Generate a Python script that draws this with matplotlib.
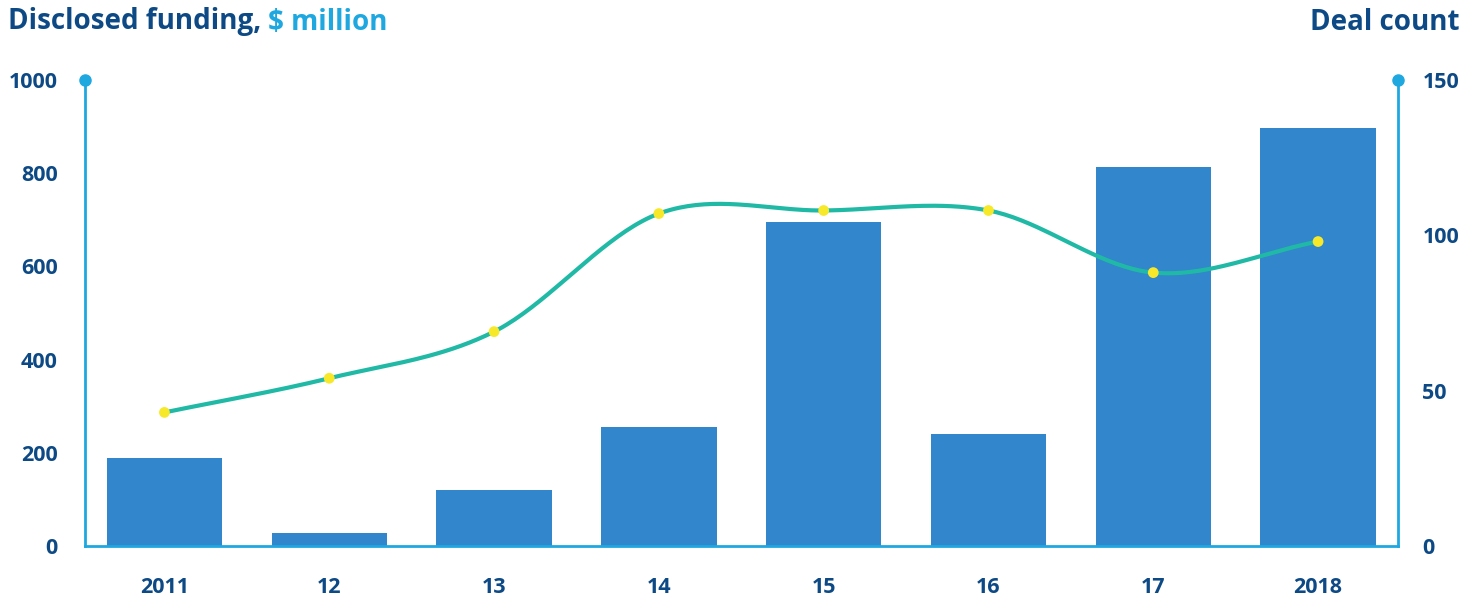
import numpy as np
import matplotlib
matplotlib.use("Agg")
import matplotlib.pyplot as plt

years = ["2011", "12", "13", "14", "15", "16", "17", "2018"]
funding = [188, 27, 120, 255, 695, 240, 813, 897]
deals = [43, 54, 69, 107, 108, 108, 88, 98]

DARK = "#0d4a85"
LIGHT = "#1fa8e0"
BAR = "#3186cc"
LINE = "#20b9a5"
DOT = "#f7e92a"
FONT = ["Open Sans", "DejaVu Sans"]

plt.rcParams["font.family"] = FONT

fig = plt.figure(figsize=(14.77, 5.97), dpi=100)
ax = fig.add_axes([85/1477, 1-546/597, (1398-85)/1477, (546-80)/597])
ax2 = ax.twinx()

x = np.arange(len(years))
ax.bar(x, funding, width=0.70, color=BAR, zorder=2)
ax.set_xlim(-0.482, len(years)-1+0.485)
ax.set_ylim(0, 1000)
ax.set_yticks([0, 200, 400, 600, 800, 1000])
ax.set_xticks(x)
ax.set_xticklabels(years)
ax2.set_ylim(0, 150)
ax2.set_yticks([0, 50, 100, 150])

# Catmull-Rom smoothing through the deal points
def catmull(xs, ys, n=40):
    px = np.concatenate([[2*xs[0]-xs[1]], xs, [2*xs[-1]-xs[-2]]])
    py = np.concatenate([[2*ys[0]-ys[1]], ys, [2*ys[-1]-ys[-2]]])
    ox, oy = [], []
    for i in range(1, len(px)-2):
        t = np.linspace(0, 1, n, endpoint=False)
        for P, out in ((px, ox), (py, oy)):
            p0, p1, p2, p3 = P[i-1], P[i], P[i+1], P[i+2]
            out.extend(0.5*((2*p1) + (-p0+p2)*t + (2*p0-5*p1+4*p2-p3)*t**2 + (-p0+3*p1-3*p2+p3)*t**3))
    ox.append(xs[-1]); oy.append(ys[-1])
    return np.array(ox), np.array(oy)

sx, sy = catmull(x.astype(float), np.array(deals, float))
ax2.plot(sx, sy, color=LINE, lw=3, zorder=3, solid_capstyle="round")
ax2.scatter(x, deals, s=60, color=DOT, zorder=4, edgecolors="none")

for a in (ax, ax2):
    a.spines["top"].set_visible(False)
    a.tick_params(length=0, labelsize=15.5, labelcolor=DARK)
    for lab in a.get_yticklabels() + a.get_xticklabels():
        lab.set_fontweight("bold")
ax.spines["left"].set_color(LIGHT)
ax.spines["bottom"].set_color(LIGHT)
ax.spines["right"].set_visible(False)
ax2.spines["left"].set_visible(False)
ax2.spines["bottom"].set_visible(False)
ax2.spines["right"].set_color(LIGHT)
for sp in (ax.spines["left"], ax.spines["bottom"], ax2.spines["right"]):
    sp.set_linewidth(2)
ax.tick_params(axis="y", pad=19.5)
ax.tick_params(axis="x", pad=22.5)
ax2.tick_params(axis="y", pad=17.5)

# dots at top of axes
ax.plot([0, 1], [1, 1], "o", color=LIGHT, ms=8, transform=ax.transAxes, clip_on=False, zorder=5)

ty = 1-22/597
t = fig.text(8/1477, ty, "Disclosed funding, ", color=DARK, fontsize=20, fontweight="bold", va="center", ha="left")
fig.canvas.draw()
bb = t.get_window_extent()
fig.text(bb.x1/1477, ty, "$ million", color=LIGHT, fontsize=20, fontweight="bold", va="center", ha="left")
fig.text(1460/1477, ty, "Deal count", color=DARK, fontsize=20, fontweight="bold", va="center", ha="right")

fig.savefig("out.png", dpi=100)
